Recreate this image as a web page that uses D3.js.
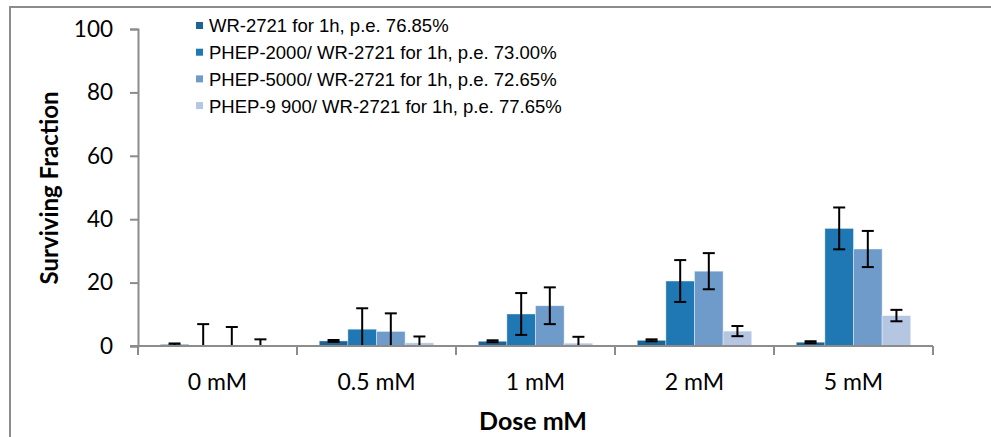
<!DOCTYPE html>
<html>
<head>
<meta charset="utf-8">
<script src="https://cdn.jsdelivr.net/npm/d3@7/dist/d3.min.js"></script>
<style>
  html, body { margin: 0; padding: 0; background: #fff; }
  svg { display: block; }
</style>
</head>
<body>
<svg id="chart" width="991" height="437"></svg>
<script>
// Dose groups and series
const categories = ["0 mM", "0.5 mM", "1 mM", "2 mM", "5 mM"];
const seriesNames = [
  "WR-2721 for 1h, p.e. 76.85%",
  "PHEP-2000/ WR-2721 for 1h, p.e. 73.00%",
  "PHEP-5000/ WR-2721 for 1h, p.e. 72.65%",
  "PHEP-9 900/ WR-2721 for 1h, p.e. 77.65%"
];
const wr2721      = [0.5, 1.6, 1.5, 1.8, 1.2];
const wr2721Err   = [0.3, 0.3, 0.3, 0.3, 0.3];
const phep2000    = [0.3, 5.3, 10.1, 20.5, 37.1];
const phep2000Err = [6.6, 6.6, 6.6, 6.6, 6.6];
const phep5000    = [0.3, 4.6, 12.7, 23.6, 30.6];
const phep5000Err = [5.7, 5.7, 5.8, 5.7, 5.7];
const phep9900    = [0.2, 1.0, 0.9, 4.7, 9.6];
const phep9900Err = [1.9, 2.0, 2.0, 1.6, 1.8];
const yTicks = [0, 20, 40, 60, 80, 100];

const colors = ["#1c6496", "#1f77b4", "#6e9bca", "#b4c6e1"];
const values = [wr2721, phep2000, phep5000, phep9900];
const errors = [wr2721Err, phep2000Err, phep5000Err, phep9900Err];

const FONT = "Lato, 'Open Sans', sans-serif";
const svg = d3.select("#chart");
const plot = { left: 138, right: 933, top: 29, bottom: 346 };

// Outer chart frame
svg.append("rect")
  .attr("x", 10).attr("y", 7)
  .attr("width", 1000).attr("height", 460)
  .attr("fill", "none").attr("stroke", "#8c8c8c").attr("stroke-width", 2);

const x0 = d3.scaleBand().domain(categories).range([plot.left, plot.right]).padding(0);
// four bars occupy the middle ~72% of each dose group
const x1 = d3.scaleBand().domain(d3.range(4))
  .range([x0.bandwidth() * 0.14, x0.bandwidth() * 0.86]).padding(0);
const y = d3.scaleLinear().domain([0, 100]).range([plot.bottom, plot.top]);

svg.append("defs").append("clipPath").attr("id", "plotClip")
  .append("rect")
  .attr("x", plot.left).attr("y", plot.top - 5)
  .attr("width", plot.right - plot.left).attr("height", plot.bottom - plot.top + 5);

const g = svg.append("g").attr("clip-path", "url(#plotClip)");

const rows = [];
categories.forEach((c, ci) => {
  values.forEach((s, si) => {
    rows.push({ cat: c, si, v: s[ci], e: errors[si][ci] });
  });
});

const cx = d => x0(d.cat) + x1(d.si) + x1.bandwidth() / 2;

g.selectAll("rect.bar").data(rows).join("rect")
  .attr("class", "bar")
  .attr("x", d => x0(d.cat) + x1(d.si))
  .attr("y", d => y(d.v))
  .attr("width", x1.bandwidth())
  .attr("height", d => y(0) - y(d.v))
  .attr("fill", d => colors[d.si])
  .attr("stroke", "#ffffff").attr("stroke-opacity", 0.5).attr("stroke-width", 0.8);

// Error bars (±), clipped at the axis
const capHalf = 6;
const eg = g.selectAll("g.err").data(rows).join("g").attr("class", "err")
  .attr("stroke", "#000").attr("stroke-width", 2);
eg.append("line")
  .attr("x1", cx).attr("x2", cx)
  .attr("y1", d => y(d.v + d.e))
  .attr("y2", d => y(d.v - d.e));
eg.append("line")
  .attr("x1", d => cx(d) - capHalf).attr("x2", d => cx(d) + capHalf)
  .attr("y1", d => y(d.v + d.e)).attr("y2", d => y(d.v + d.e));
eg.append("line")
  .attr("x1", d => cx(d) - capHalf).attr("x2", d => cx(d) + capHalf)
  .attr("y1", d => y(d.v - d.e)).attr("y2", d => y(d.v - d.e));

// Y axis
const yAxis = svg.append("g").attr("transform", `translate(${plot.left},0)`)
  .call(d3.axisLeft(y).tickValues(yTicks).tickSize(8).tickPadding(17));
yAxis.select(".domain").attr("stroke", "#8c8c8c").attr("stroke-width", 2);
yAxis.selectAll(".tick line").attr("stroke", "#8c8c8c").attr("stroke-width", 2);
yAxis.selectAll(".tick text")
  .attr("font-family", FONT).attr("font-size", 22.5).attr("fill", "#000");

// X axis with boundary ticks between dose groups
const xAxis = svg.append("g").attr("transform", `translate(0,${plot.bottom})`);
xAxis.append("line")
  .attr("x1", plot.left - 8).attr("x2", plot.right)
  .attr("stroke", "#8c8c8c").attr("stroke-width", 2);
const bounds = categories.map(c => x0(c)).concat([plot.right]);
xAxis.selectAll("line.bt").data(bounds).join("line").attr("class", "bt")
  .attr("x1", d => d).attr("x2", d => d).attr("y1", 0).attr("y2", 9)
  .attr("stroke", "#8c8c8c").attr("stroke-width", 2);
xAxis.selectAll("text").data(categories).join("text")
  .attr("x", d => x0(d) + x0.bandwidth() / 2)
  .attr("y", 36)
  .attr("text-anchor", "middle").attr("dy", "0.35em")
  .attr("font-family", FONT).attr("font-size", 23).attr("fill", "#000")
  .text(d => d);

// Axis titles
svg.append("text")
  .attr("transform", `translate(50,188) rotate(-90)`)
  .attr("text-anchor", "middle").attr("dy", "0.35em")
  .attr("font-family", FONT).attr("font-weight", "bold").attr("font-size", 24)
  .text("Surviving Fraction");
svg.append("text")
  .attr("x", 533).attr("y", 421)
  .attr("text-anchor", "middle").attr("dy", "0.35em")
  .attr("font-family", FONT).attr("font-weight", "bold").attr("font-size", 25)
  .text("Dose mM");

// Legend
const legend = svg.append("g").attr("transform", "translate(196,26)");
const li = legend.selectAll("g").data(seriesNames).join("g")
  .attr("transform", (d, i) => `translate(0,${i * 26.7})`);
li.append("rect").attr("x", 0).attr("y", -4).attr("width", 7).attr("height", 7)
  .attr("fill", (d, i) => colors[i]);
li.append("text").attr("x", 13).attr("dy", "0.35em")
  .attr("font-family", "'Liberation Sans', Arial, sans-serif").attr("font-size", 18.5).attr("fill", "#000")
  .text(d => d);
</script>
</body>
</html>
